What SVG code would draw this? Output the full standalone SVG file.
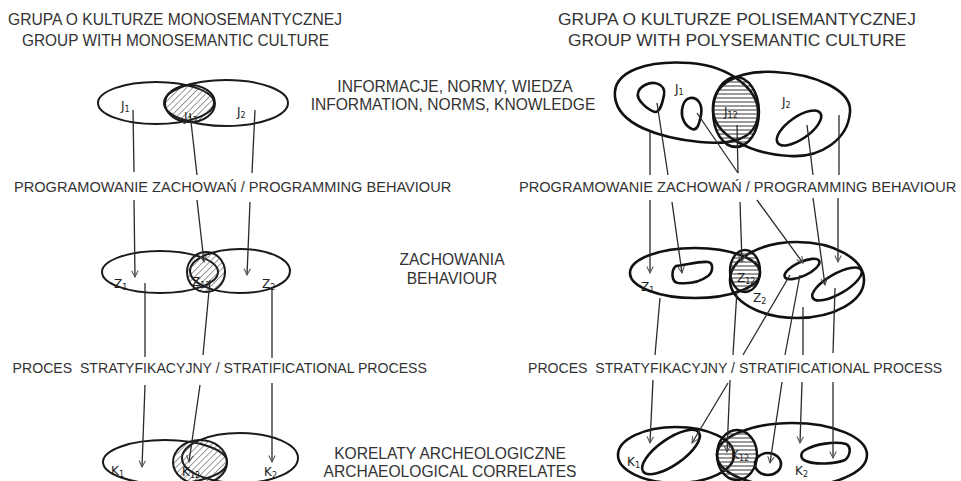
<svg xmlns="http://www.w3.org/2000/svg" width="961" height="481" viewBox="0 0 961 481">
<style>
.t{font-family:"Liberation Sans",Arial,sans-serif;fill:#333;white-space:pre}
.h{font-size:17.4px}
.m{font-size:15.6px}
.s{font-size:14.6px}
.p{font-size:14.1px}
.el{fill:none;stroke:#1a1a1a;stroke-width:2}
.elb{fill:none;stroke:#111;stroke-width:2.6}
.hd{fill:url(#hd);stroke:#1a1a1a;stroke-width:2}
.hh{fill:url(#hh);stroke:#111;stroke-width:2.4}
.ln{fill:none;stroke:#2a2a2a;stroke-width:1.3}
.ar{marker-end:url(#a)}
.lb{font-family:"DejaVu Sans","Liberation Sans",sans-serif;font-size:12px;fill:#222}
.sb{font-size:8px}
</style>
<defs>
<pattern id="hd" patternUnits="userSpaceOnUse" width="4.5" height="4.5" patternTransform="rotate(45)"><line x1="0" y1="0" x2="0" y2="4.5" stroke="#333" stroke-width="1"/></pattern>
<pattern id="hh" patternUnits="userSpaceOnUse" width="4" height="4"><line x1="0" y1="2" x2="4" y2="2" stroke="#333" stroke-width="1"/></pattern>
<marker id="a" viewBox="0 0 10 10" refX="9" refY="5" markerWidth="8" markerHeight="8" markerUnits="userSpaceOnUse" orient="auto"><path d="M1,1 L9,5 L1,9" fill="none" stroke="#555" stroke-width="1.3"/></marker>
</defs>
<rect width="961" height="481" fill="#fff"/>

<g id="headers">
<text class="t h" x="8" y="25" textLength="334" lengthAdjust="spacingAndGlyphs">GRUPA O KULTURZE MONOSEMANTYCZNEJ</text>
<text class="t h" x="22" y="46" textLength="307" lengthAdjust="spacingAndGlyphs">GROUP WITH MONOSEMANTIC CULTURE</text>
<text class="t h" x="737" y="25" text-anchor="middle">GRUPA O KULTURZE POLISEMANTYCZNEJ</text>
<text class="t h" x="737" y="46" text-anchor="middle">GROUP WITH POLYSEMANTIC CULTURE</text>
</g>

<g id="labels">
<text class="t m" x="455" y="92" text-anchor="middle">INFORMACJE, NORMY, WIEDZA</text>
<text class="t m" x="453" y="110" text-anchor="middle">INFORMATION, NORMS, KNOWLEDGE</text>
<text class="t s" x="14" y="192">PROGRAMOWANIE ZACHOWAŃ / PROGRAMMING BEHAVIOUR</text>
<text class="t s" x="519" y="192">PROGRAMOWANIE ZACHOWAŃ / PROGRAMMING BEHAVIOUR</text>
<text class="t m" x="452" y="265" text-anchor="middle">ZACHOWANIA</text>
<text class="t m" x="452" y="284" text-anchor="middle">BEHAVIOUR</text>
<text class="t p" x="12.6" y="373">PROCES  STRATYFIKACYJNY / STRATIFICATIONAL PROCESS</text>
<text class="t p" x="528" y="373">PROCES  STRATYFIKACYJNY / STRATIFICATIONAL PROCESS</text>
<text class="t m" x="450" y="459" text-anchor="middle">KORELATY ARCHEOLOGICZNE</text>
<text class="t m" x="450" y="477" text-anchor="middle">ARCHAEOLOGICAL CORRELATES</text>
</g>

<g id="left-J">
<ellipse class="el" cx="156" cy="103" rx="58" ry="21"/>
<ellipse class="el" cx="226" cy="103" rx="62" ry="23"/>
<ellipse class="hd" cx="190" cy="103.5" rx="25" ry="18.5"/>
<text class="lb" x="121" y="110">J<tspan class="sb" dy="2">1</tspan></text>
<text class="lb" x="184" y="121">J<tspan class="sb" dy="2">12</tspan></text>
<text class="lb" x="237" y="116">J<tspan class="sb" dy="2">2</tspan></text>
</g>
<g id="left-Z">
<ellipse class="el" cx="160" cy="272" rx="58" ry="21"/>
<ellipse class="el" cx="240" cy="271" rx="50" ry="22"/>
<ellipse class="hd" cx="206" cy="272" rx="19" ry="20"/>
<text class="lb" x="114" y="288">Z<tspan class="sb" dy="2">1</tspan></text>
<text class="lb" x="192" y="286">Z<tspan class="sb" dy="2">12</tspan></text>
<text class="lb" x="262" y="288">Z<tspan class="sb" dy="2">2</tspan></text>
</g>
<g id="left-K">
<ellipse class="el" cx="165" cy="462" rx="62" ry="22"/>
<ellipse class="el" cx="240" cy="458" rx="58" ry="25"/>
<ellipse class="hd" cx="200" cy="462" rx="27" ry="22"/>
<text class="lb" x="111" y="475">K<tspan class="sb" dy="2">1</tspan></text>
<text class="lb" x="182" y="476">K<tspan class="sb" dy="2">12</tspan></text>
<text class="lb" x="264" y="476">K<tspan class="sb" dy="2">2</tspan></text>
</g>

<g id="right-J">
<path class="elb" d="M615,97 C612,70 650,60 690,63 C730,66 760,90 758,115 C756,140 730,145 700,142 C660,138 618,125 615,97 Z"/>
<path class="elb" d="M713,110 C712,85 735,70 775,72 C815,74 852,90 850,112 C848,140 820,158 790,156 C750,154 714,135 713,110 Z"/>
<ellipse class="hh" cx="736" cy="112" rx="23" ry="35"/>
<path class="elb" d="M645,85 C655,80 666,85 664,95 C662,105 660,112 655,112 C648,110 636,100 638,93 C639,89 641,87 645,85 Z"/>
<path class="elb" d="M690,98 C698,97 703,105 701,115 C699,125 697,131 692,129 C685,126 681,118 682,110 C683,103 685,99 690,98 Z"/>
<ellipse class="elb" cx="799" cy="128" rx="26" ry="11" transform="rotate(-35 799 128)"/>
<text class="lb" x="675" y="93">J<tspan class="sb" dy="2">1</tspan></text>
<text class="lb" x="724" y="116">J<tspan class="sb" dy="2">12</tspan></text>
<text class="lb" x="782" y="106">J<tspan class="sb" dy="2">2</tspan></text>
</g>
<g id="right-Z">
<ellipse class="elb" cx="695" cy="273" rx="65" ry="25"/>
<ellipse class="elb" cx="797" cy="280" rx="67" ry="38"/>
<ellipse class="hh" cx="745" cy="271" rx="15" ry="21"/>
<path class="elb" d="M676,266 C690,264 700,261 708,262 C714,263 713,272 708,276 C700,282 688,284 678,283 C671,282 671,270 676,266 Z"/>
<ellipse class="elb" cx="802" cy="269" rx="19" ry="7" transform="rotate(-25 802 269)"/>
<ellipse class="elb" cx="837" cy="284" rx="28" ry="10" transform="rotate(-30 837 284)"/>
<text class="lb" x="641" y="291">Z<tspan class="sb" dy="2">1</tspan></text>
<text class="lb" x="737" y="282">Z<tspan class="sb" dy="2">12</tspan></text>
<text class="lb" x="753" y="302" fill="#666">Z<tspan class="sb" dy="2">2</tspan></text>
</g>
<g id="right-K">
<ellipse class="elb" cx="676" cy="455" rx="58" ry="28"/>
<ellipse class="elb" cx="792" cy="455" rx="75" ry="32"/>
<ellipse class="hh" cx="737" cy="455" rx="20" ry="25"/>
<ellipse class="elb" cx="671" cy="452" rx="34" ry="13" transform="rotate(-35 671 452)"/>
<ellipse class="elb" cx="768" cy="464" rx="13" ry="11"/>
<path class="elb" d="M805,450 C815,444 835,441 846,444 C852,447 850,456 845,460 C835,464 815,465 806,461 C800,459 800,453 805,450 Z"/>
<text class="lb" x="627" y="466">K<tspan class="sb" dy="2">1</tspan></text>
<text class="lb" x="731" y="459">K<tspan class="sb" dy="2">12</tspan></text>
<text class="lb" x="795" y="475">K<tspan class="sb" dy="2">2</tspan></text>
</g>

<g id="connectors">
<path class="ln" d="M133,110 L134,172"/>
<path class="ln ar" d="M134,200 L135,277"/>
<path class="ln" d="M190,113 L197,175"/>
<path class="ln ar" d="M197,200 L204,262"/>
<path class="ln" d="M255,110 L252,173"/>
<path class="ln ar" d="M250,202 L247,275"/>
<path class="ln" d="M145,283 L145,357"/>
<path class="ln ar" d="M145,385 L142,467"/>
<path class="ln" d="M210,280 L203,355"/>
<path class="ln ar" d="M200,385 L189,462"/>
<path class="ln" d="M272,287 L272,358"/>
<path class="ln ar" d="M272,383 L272,462"/>

<path class="ln" d="M650,130 L650,175"/>
<path class="ln ar" d="M650,200 L650,273"/>
<path class="ln" d="M657,103 L668,175"/>
<path class="ln ar" d="M672,202 L682,273"/>
<path class="ln" d="M697,113 L738,173"/>
<path class="ln" d="M737,125 L738,173"/>
<path class="ln ar" d="M740,202 L742,262"/>
<path class="ln ar" d="M757,200 L803,263"/>
<path class="ln" d="M807,125 L813,175"/>
<path class="ln ar" d="M813,198 L825,285"/>
<path class="ln" d="M839,115 L839,175"/>
<path class="ln ar" d="M838,198 L838,262"/>
<path class="ln" d="M660,298 L655,355"/>
<path class="ln ar" d="M653,380 L650,443"/>
<path class="ln" d="M737,290 L733,355"/>
<path class="ln ar" d="M730,380 L727,452"/>
<path class="ln" d="M790,275 L743,355"/>
<path class="ln ar" d="M728,383 L692,443"/>
<path class="ln" d="M800,275 L785,355"/>
<path class="ln ar" d="M782,382 L770,463"/>
<path class="ln" d="M803,307 L803,355"/>
<path class="ln ar" d="M802,382 L800,443"/>
<path class="ln" d="M835,288 L833,353"/>
<path class="ln ar" d="M833,382 L833,458"/>
</g>
</svg>
